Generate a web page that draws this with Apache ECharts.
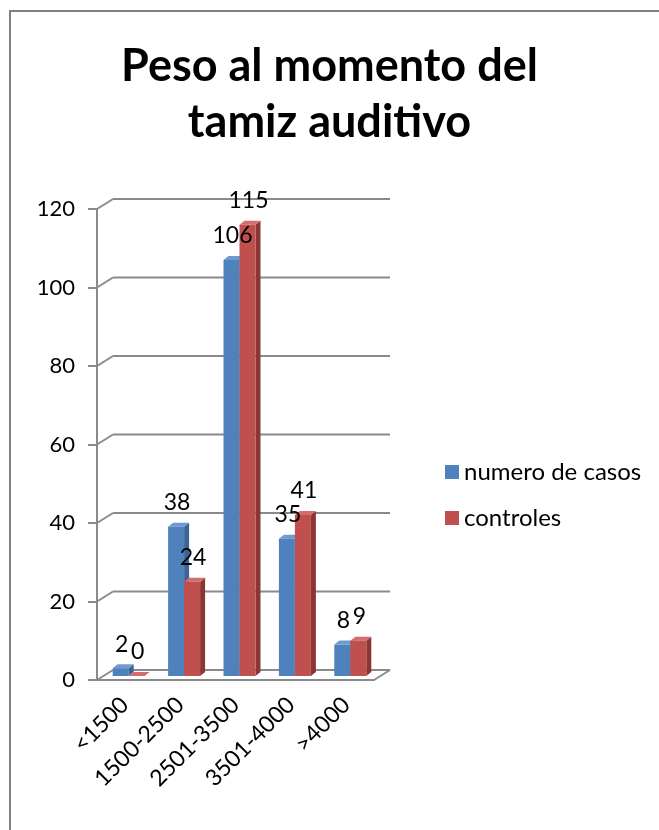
<!DOCTYPE html>
<html>
<head>
<meta charset="utf-8">
<title>Peso al momento del tamiz auditivo</title>
<script src="https://cdn.jsdelivr.net/npm/echarts@6/dist/echarts.min.js"></script>
<style>
html, body { margin: 0; padding: 0; background: #fff; }
#chart { width: 659px; height: 830px; }
</style>
</head>
<body>
<div id="chart"></div>
<script>
// datos
var categorias = ['<1500', '1500-2500', '2501-3500', '3501-4000', '>4000'];
var casos = [2, 38, 106, 35, 8];
var controles = [0, 24, 115, 41, 9];
var yTicks = [0, 20, 40, 60, 80, 100, 120];

var FONT = 'Lato';
var DX = 16, DY = -10;      // profundidad de la pared
var BW = 16;                // ancho de barra
var SX = 5, SY = -4;        // profundidad de la barra
var OFF_CASOS = -12, OFF_CONTROLES = 4;

var chart = echarts.init(document.getElementById('chart'));

// pared del fondo + piso
function renderPared(params, api) {
    var v = api.value(1);
    var p = api.coord([0, v]);
    var band = api.size([1, 0])[0];
    var left = p[0] - band / 2;
    var right = left + band * categorias.length;
    var y = p[1];
    var st = { stroke: '#8a8a8a', lineWidth: 2 };
    var kids = [
        { type: 'line', shape: { x1: left, y1: y, x2: left + DX, y2: y + DY }, style: st },
        { type: 'line', shape: { x1: left + DX, y1: y + DY, x2: right + DX, y2: y + DY }, style: st }
    ];
    if (v === 0) {
        kids.push({ type: 'line', shape: { x1: right, y1: y, x2: right + DX, y2: y + DY }, style: st });
    }
    return { type: 'group', children: kids };
}

function makeBarRender(offset, cFront, cTop, cSide) {
    return function (params, api) {
        var i = api.value(0), v = api.value(1);
        var c = api.coord([i, v]);
        var b = api.coord([i, 0]);
        var x0 = c[0] + offset;
        var top = c[1] - 4;
        var bot = b[1] - 4;
        return {
            type: 'group',
            children: [
                { type: 'polygon', shape: { points: [[x0 + BW, top], [x0 + BW + SX, top + SY], [x0 + BW + SX, bot + SY], [x0 + BW, bot]] }, style: { fill: cSide } },
                { type: 'polygon', shape: { points: [[x0, top], [x0 + BW, top], [x0 + BW + SX, top + SY], [x0 + SX, top + SY]] }, style: { fill: cTop } },
                { type: 'rect', shape: { x: x0, y: top, width: BW, height: bot - top }, style: { fill: cFront } }
            ]
        };
    };
}

function makeLabelRender(offset) {
    return function (params, api) {
        var i = api.value(0), v = api.value(1);
        var c = api.coord([i, v]);
        return {
            type: 'text',
            x: c[0] + offset + BW / 2 + 1,
            y: c[1] - 28,
            style: { text: String(v), fill: '#000', font: '23px ' + FONT, align: 'center', verticalAlign: 'middle' }
        };
    };
}

function pares(arr) {
    return arr.map(function (v, i) { return [i, v]; });
}

var option = {
    backgroundColor: '#fff',
    animation: false,
    title: {
        text: 'Peso al momento del\ntamiz auditivo',
        left: 'center',
        top: 33,
        textStyle: { fontFamily: FONT, fontWeight: 'bold', fontSize: 45, lineHeight: 56, color: '#000' }
    },
    legend: {
        orient: 'vertical',
        left: 440,
        top: 455,
        itemGap: 22,
        itemWidth: 14,
        itemHeight: 14,
        icon: 'rect',
        textStyle: { fontFamily: FONT, fontSize: 24, color: '#000' },
        data: ['numero de casos', 'controles']
    },
    graphic: [{
        type: 'rect',
        shape: { x: 10, y: 11, width: 700, height: 900 },
        style: { fill: 'none', stroke: '#808080', lineWidth: 2 }
    }],
    grid: { left: 97, top: 209, width: 277, height: 471 },
    xAxis: {
        type: 'category',
        data: categorias,
        axisLine: { lineStyle: { color: '#8a8a8a', width: 2 } },
        axisTick: { length: 8, lineStyle: { color: '#8a8a8a', width: 2 } },
        axisLabel: { rotate: 45, margin: 21, color: '#000', fontFamily: FONT, fontSize: 23 }
    },
    yAxis: {
        type: 'value',
        min: 0,
        max: 120,
        interval: 20,
        splitLine: { show: false },
        axisLine: { show: true, lineStyle: { color: '#8a8a8a', width: 2 } },
        axisTick: { show: true, length: 9, lineStyle: { color: '#8a8a8a', width: 2 } },
        axisLabel: { margin: 22, color: '#000', fontFamily: FONT, fontSize: 22 }
    },
    series: [
        {
            type: 'custom',
            name: 'pared',
            silent: true,
            z: 1,
            renderItem: renderPared,
            data: pares(yTicks).map(function (d) { return [0, d[1]]; })
        },
        {
            type: 'custom',
            name: 'numero de casos',
            z: 3,
            itemStyle: { color: '#4F81BD' },
            renderItem: makeBarRender(OFF_CASOS, '#4F81BD', '#6E9AD2', '#3B6394'),
            data: pares(casos)
        },
        {
            type: 'custom',
            name: 'controles',
            z: 3,
            itemStyle: { color: '#C0504D' },
            renderItem: makeBarRender(OFF_CONTROLES, '#C0504D', '#D26E6B', '#8C3634'),
            data: pares(controles)
        },
        {
            type: 'custom',
            name: 'etiquetas casos',
            silent: true,
            z: 5,
            renderItem: makeLabelRender(OFF_CASOS),
            data: pares(casos)
        },
        {
            type: 'custom',
            name: 'etiquetas controles',
            silent: true,
            z: 5,
            renderItem: makeLabelRender(OFF_CONTROLES),
            data: pares(controles)
        }
    ]
};

chart.setOption(option);
</script>
</body>
</html>
